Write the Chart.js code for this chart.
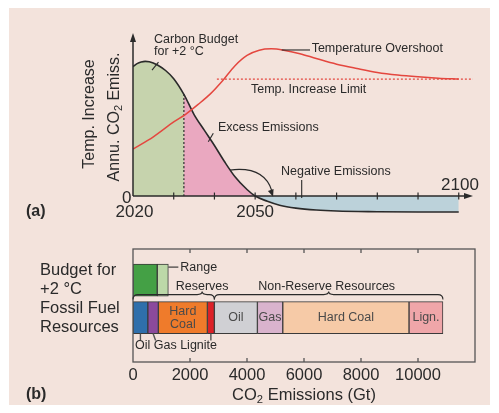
<!DOCTYPE html>
<html>
<head>
<meta charset="utf-8">
<script src="https://cdn.jsdelivr.net/npm/chart.js@4.4.1/dist/chart.umd.min.js"></script>
<style>
  html, body { margin: 0; padding: 0; background: #fff; }
  #wrap { position: relative; width: 499px; height: 413px; overflow: hidden; }
  #bg { position: absolute; left: 9px; top: 8px; width: 481px; height: 397px; background: #f3e3dc; }
  #ca { position: absolute; left: 0; top: 0; }
  #cb { position: absolute; left: 0; top: 230px; }
</style>
</head>
<body>
<div id="wrap">
  <div id="bg"></div>
  <canvas id="ca" width="499" height="230"></canvas>
  <canvas id="cb" width="499" height="183"></canvas>
</div>
<script>
// ---- panel (a): emission pathway and temperature ----
var years = [2020, 2021, 2022, 2023, 2024, 2026, 2028, 2030, 2032.5, 2035, 2037.5, 2040, 2042.5, 2045, 2048, 2050, 2053, 2056, 2060, 2065, 2070, 2080, 2090, 2100];
var emissions = [39.7, 40.6, 41.1, 41.3, 41.2, 40.2, 38.5, 36.0, 31.2, 25.0, 20.2, 15.5, 10.5, 6.0, 2.0, 0, -1.6, -2.8, -3.7, -4.3, -4.6, -4.8, -4.9, -4.9];
var tempYears = [2020, 2025, 2030, 2033, 2036, 2039, 2042, 2045, 2048, 2051, 2054, 2057, 2061, 2065, 2070, 2075, 2080, 2085, 2090, 2095, 2100];
var tempIncrease = [1.2, 1.34, 1.51, 1.6, 1.71, 1.83, 1.98, 2.15, 2.27, 2.33, 2.345, 2.33, 2.29, 2.235, 2.17, 2.12, 2.075, 2.045, 2.025, 2.01, 2.0];
var tempLimit = 2.0;
var budgetEndYear = 2032.5;
var netZeroYear = 2050;
var yearTicks = [2030, 2040, 2050, 2060, 2070, 2080, 2090, 2100];

// ---- panel (b): budget vs fossil fuel resources (Gt CO2) ----
var rowLabels = [['Budget for', '+2 °C'], ['Fossil Fuel', 'Resources']];
var budgetNames = ['Budget', 'Range'];
var budgetValues = [850, 390];
var reserveNames = ['Oil', 'Gas', 'Hard Coal', 'Lignite'];
var reserveValues = [520, 370, 1720, 245];
var nonReserveNames = ['Oil', 'Gas', 'Hard Coal', 'Lign.'];
var nonReserveValues = [1510, 890, 4430, 1190];
var emissionTicks = [0, 2000, 4000, 6000, 8000, 10000];

var FF = '"Liberation Sans", Arial, sans-serif';
var ink = '#2a2a2a';
var red = '#e4473f';

function pts(xs, ys) {
    return xs.map(function (v, i) { return {x: v, y: ys[i]}; });
}
var emissionPts = pts(years, emissions);
function between(lo, hi) {
    return emissionPts.filter(function (p) { return p.x >= lo && p.x <= hi; });
}
function valueAt(yr) {
    return emissionPts.filter(function (p) { return p.x === yr; })[0].y;
}

function line(ctx, x1, y1, x2, y2) {
    ctx.beginPath(); ctx.moveTo(x1, y1); ctx.lineTo(x2, y2); ctx.stroke();
}
function arrowHead(ctx, tx, ty, dx, dy, len, half) {
    var n = Math.sqrt(dx * dx + dy * dy); dx /= n; dy /= n;
    ctx.beginPath();
    ctx.moveTo(tx, ty);
    ctx.lineTo(tx - dx * len - dy * half, ty - dy * len + dx * half);
    ctx.lineTo(tx - dx * len + dy * half, ty - dy * len - dx * half);
    ctx.closePath(); ctx.fill();
}
// text with subscript parts: [[text, isSub], ...]
function rich(ctx, parts, x, y, align, size) {
    var w = 0;
    parts.forEach(function (p) {
        ctx.font = (p[1] ? size * 0.68 : size) + 'px ' + FF;
        w += ctx.measureText(p[0]).width;
    });
    var cx = align === 'center' ? x - w / 2 : x;
    ctx.textAlign = 'left';
    parts.forEach(function (p) {
        ctx.font = (p[1] ? size * 0.68 : size) + 'px ' + FF;
        ctx.fillText(p[0], cx, p[1] ? y + size * 0.28 : y);
        cx += ctx.measureText(p[0]).width;
    });
}
function text(ctx, s, x, y, align, font) {
    ctx.font = font; ctx.textAlign = align; ctx.fillText(s, x, y);
}

var annotA = {
    id: 'annotA',
    afterDatasetsDraw: function (chart) {
        var ctx = chart.ctx, a = chart.chartArea;
        var sx = chart.scales.x, sy = chart.scales.y, st = chart.scales.y2;
        var X = function (v) { return sx.getPixelForValue(v); };
        var Y = function (v) { return sy.getPixelForValue(v); };
        var T = function (v) { return st.getPixelForValue(v); };
        var x0 = X(years[0]), y0 = Y(0);
        ctx.save();
        ctx.strokeStyle = ink; ctx.fillStyle = ink; ctx.textBaseline = 'middle';

        // axes with arrows
        ctx.lineWidth = 1.5;
        line(ctx, x0, y0, x0, a.top + 8);
        arrowHead(ctx, x0, a.top, 0, -1, 9, 3);
        line(ctx, x0, y0, a.right - 8, y0);
        arrowHead(ctx, a.right, y0, 1, 0, 9, 3);
        ctx.lineWidth = 1.2;
        yearTicks.forEach(function (t) { line(ctx, X(t), y0 - 3.5, X(t), y0 + 3.5); });

        // tick labels
        var big = '17px ' + FF;
        text(ctx, '0', x0 - 1.5, y0 + 2, 'right', big);
        text(ctx, String(years[0]), x0 + 1.5, y0 + 16, 'center', big);
        text(ctx, String(netZeroYear), X(netZeroYear), y0 + 16, 'center', big);
        text(ctx, String(years[years.length - 1]), X(2100.3), y0 - 11, 'center', big);
        text(ctx, '(a)', 26, y0 + 16, 'left', 'bold 16px ' + FF);

        // axis titles
        ctx.save();
        ctx.translate(a.left - 43, a.top + 81); ctx.rotate(-Math.PI / 2);
        text(ctx, 'Temp. Increase', 0, 0, 'center', '16px ' + FF);
        ctx.restore();
        ctx.save();
        ctx.translate(a.left - 18, a.top + 84); ctx.rotate(-Math.PI / 2);
        rich(ctx, [['Annu. CO', false], ['2', true], [' Emiss.', false]], 0, 0, 'center', 16);
        ctx.restore();

        // annotations
        var small = '12.5px ' + FF;
        ctx.lineWidth = 1.1;
        text(ctx, 'Carbon Budget', X(2025.16), Y(48.05), 'left', small);
        text(ctx, 'for +2 °C', X(2025.16), Y(44.26), 'left', small);
        line(ctx, X(2024.67), Y(38.64), X(2026.26), Y(41.09));

        text(ctx, 'Excess Emissions', X(2040.87), Y(20.94), 'left', small);
        line(ctx, X(2038.49), Y(16.65), X(2039.72), Y(19.23));

        text(ctx, 'Negative Emissions', X(2056.35), Y(7.45), 'left', small);
        line(ctx, X(2061.43), Y(4.91), X(2061.43), Y(-0.61));

        text(ctx, 'Temperature Overshoot', X(2063.88), T(2.351), 'left', small);
        line(ctx, X(2056.52), T(2.332), X(2063.47), T(2.332));

        text(ctx, 'Temp. Increase Limit', X(2048.98), T(1.883), 'left', small);

        // curved arrow from excess to negative emissions
        ctx.lineWidth = 1.2;
        ctx.beginPath();
        ctx.moveTo(X(2043.82), Y(7.97));
        ctx.bezierCurveTo(X(2049.96), Y(8.89), X(2053.0), Y(6.0), X(2054.1), Y(1.6));
        ctx.stroke();
        arrowHead(ctx, X(2054.4), Y(-0.2), 0.35, 1, 7, 3);
        ctx.restore();
    }
};

new Chart(document.getElementById('ca'), {
    type: 'line',
    data: {
        datasets: [
            {data: between(years[0], budgetEndYear), fill: 'origin', backgroundColor: '#c6d3ad', borderWidth: 0, order: 5},
            {data: between(budgetEndYear, netZeroYear), fill: 'origin', backgroundColor: '#eaa8c0', borderWidth: 0, order: 5},
            {data: between(netZeroYear, 2100), fill: 'origin', backgroundColor: '#bcd2da', borderWidth: 0, order: 5},
            {data: [{x: budgetEndYear, y: 0}, {x: budgetEndYear, y: valueAt(budgetEndYear)}], borderColor: ink, borderWidth: 1.2, borderDash: [2, 2], tension: 0, order: 4},
            {data: emissionPts, borderColor: ink, borderWidth: 1.6, order: 2},
            {data: [{x: 2040.6, y: tempLimit}, {x: 2103.5, y: tempLimit}], yAxisID: 'y2', borderColor: red, borderWidth: 1.2, borderDash: [2, 2], tension: 0, order: 3},
            {data: pts(tempYears, tempIncrease), yAxisID: 'y2', borderColor: red, borderWidth: 1.5, order: 1}
        ]
    },
    options: {
        responsive: false,
        animation: false,
        layout: {padding: {left: 133, right: 26, top: 33, bottom: 17}},
        elements: {
            point: {radius: 0},
            line: {cubicInterpolationMode: 'monotone', fill: false}
        },
        scales: {
            x: {type: 'linear', min: 2020, max: 2103.5, display: false},
            y: {min: -5.2, max: 50, display: false},
            y2: {min: 0.469, max: 2.526, display: false}
        },
        plugins: {legend: {display: false}, tooltip: {enabled: false}}
    },
    plugins: [annotA]
});

// ---- panel (b) ----
function segments(names, values, row, colors, start) {
    var acc = start, out = [];
    values.forEach(function (v, i) {
        out.push({name: names[i], row: row, from: acc, to: acc + v, color: colors[i]});
        acc += v;
    });
    return out;
}
var budgetSegs = segments(budgetNames, budgetValues, 1, ['#44a045', '#bcd8a8'], 0);
var reserveSegs = segments(reserveNames, reserveValues, 2, ['#2f6fab', '#8b4a9c', '#ef7b2b', '#dd2027'], 0);
var reserveTotal = reserveSegs[reserveSegs.length - 1].to;
var nonReserveSegs = segments(nonReserveNames, nonReserveValues, 2, ['#d0d0d4', '#d9b3cd', '#f6caa7', '#efa6a9'], reserveTotal);
var allSegs = budgetSegs.concat(reserveSegs, nonReserveSegs);

function brace(ctx, x1, x2, tip, yb) {
    ctx.beginPath();
    ctx.moveTo(x1, yb + 5);
    ctx.quadraticCurveTo(x1, yb, x1 + 5, yb);
    ctx.lineTo(tip - 5, yb);
    ctx.quadraticCurveTo(tip, yb, tip, yb - 3);
    ctx.quadraticCurveTo(tip, yb, tip + 5, yb);
    ctx.lineTo(x2 - 5, yb);
    ctx.quadraticCurveTo(x2, yb, x2, yb + 5);
    ctx.stroke();
}

var annotB = {
    id: 'annotB',
    afterDatasetsDraw: function (chart) {
        var ctx = chart.ctx, a = chart.chartArea;
        var sx = chart.scales.x, sy = chart.scales.y;
        var X = function (v) { return sx.getPixelForValue(v); };
        var Y = function (v) { return sy.getPixelForValue(v); };
        var mid = function (s) { return X((s.from + s.to) / 2); };
        ctx.save();
        ctx.textBaseline = 'middle';

        // frame and inner ticks
        ctx.strokeStyle = '#555'; ctx.lineWidth = 1.3;
        ctx.strokeRect(a.left, a.top, a.right - a.left, a.bottom - a.top);
        emissionTicks.slice(1).forEach(function (t) {
            line(ctx, X(t), a.top, X(t), a.top + 4);
            line(ctx, X(t), a.bottom, X(t), a.bottom - 4);
        });
        ctx.fillStyle = ink;
        emissionTicks.forEach(function (t) {
            text(ctx, String(t), X(t), a.bottom + 13, 'center', '16.5px ' + FF);
        });
        rich(ctx, [['CO', false], ['2', true], [' Emissions (Gt)', false]], X(6000), a.bottom + 33, 'center', 16.5);
        text(ctx, '(b)', 26, a.bottom + 33, 'left', 'bold 16px ' + FF);

        // row labels
        rowLabels.forEach(function (lines, i) {
            text(ctx, lines[0], 40, Y(i + 1) - 9.5, 'left', '16.5px ' + FF);
            text(ctx, lines[1], 40, Y(i + 1) + 9.5, 'left', '16.5px ' + FF);
        });

        var small = '12.5px ' + FF;
        var rowTop = Y(1) - 16, fossilTop = Y(2) - 16, fossilBot = Y(2) + 16;
        // range
        ctx.strokeStyle = ink; ctx.lineWidth = 1.1;
        var rangeEnd = X(budgetSegs[1].to);
        line(ctx, rangeEnd, rowTop + 3, rangeEnd + 10, rowTop + 3);
        text(ctx, 'Range', rangeEnd + 12, rowTop + 3, 'left', small);

        // braces
        var yb = fossilTop - 7;
        brace(ctx, X(0), X(reserveTotal), X(reserveTotal * 0.85), yb);
        var nrEnd = nonReserveSegs[nonReserveSegs.length - 1].to;
        brace(ctx, X(reserveTotal), X(nrEnd), X((reserveTotal + nrEnd) / 2), yb);
        text(ctx, 'Reserves', X(reserveTotal * 0.85), yb - 8, 'center', small);
        text(ctx, 'Non-Reserve Resources', X((reserveTotal + nrEnd) / 2) - 2, yb - 8, 'center', small);

        // labels inside bars
        ctx.fillStyle = '#4a4a4a';
        var hc = reserveSegs[2];
        text(ctx, 'Hard', mid(hc), Y(2) - 6.2, 'center', small);
        text(ctx, 'Coal', mid(hc), Y(2) + 6.6, 'center', small);
        nonReserveSegs.forEach(function (s) {
            text(ctx, s.name, mid(s), Y(2), 'center', small);
        });

        // reserve labels under the bar
        ctx.fillStyle = ink; ctx.strokeStyle = '#555'; ctx.lineWidth = 1.4;
        line(ctx, mid(reserveSegs[0]), fossilBot, mid(reserveSegs[0]), fossilBot + 7);
        line(ctx, mid(reserveSegs[1]), fossilBot, mid(reserveSegs[1]) + 2.5, fossilBot + 7);
        line(ctx, mid(reserveSegs[3]), fossilBot, mid(reserveSegs[3]), fossilBot + 7);
        var under = [reserveSegs[0].name, reserveSegs[1].name, reserveSegs[3].name].join(' ');
        text(ctx, under, X(0) + 2, fossilBot + 12, 'left', small);
        ctx.restore();
    }
};

new Chart(document.getElementById('cb'), {
    type: 'bar',
    data: {
        datasets: allSegs.map(function (s) {
            return {
                label: s.name,
                data: [{x: [s.from, s.to], y: s.row}],
                backgroundColor: s.color,
                borderColor: '#3a3a3a',
                borderWidth: 1,
                borderSkipped: false,
                barThickness: 32,
                grouped: false
            };
        })
    },
    options: {
        indexAxis: 'y',
        responsive: false,
        animation: false,
        layout: {padding: {left: 133, right: 24, top: 19, bottom: 51}},
        scales: {
            x: {type: 'linear', min: 0, max: 12000, display: false},
            y: {type: 'linear', min: 0.422, max: 2.933, reverse: true, display: false}
        },
        plugins: {legend: {display: false}, tooltip: {enabled: false}}
    },
    plugins: [annotB]
});
</script>
</body>
</html>
